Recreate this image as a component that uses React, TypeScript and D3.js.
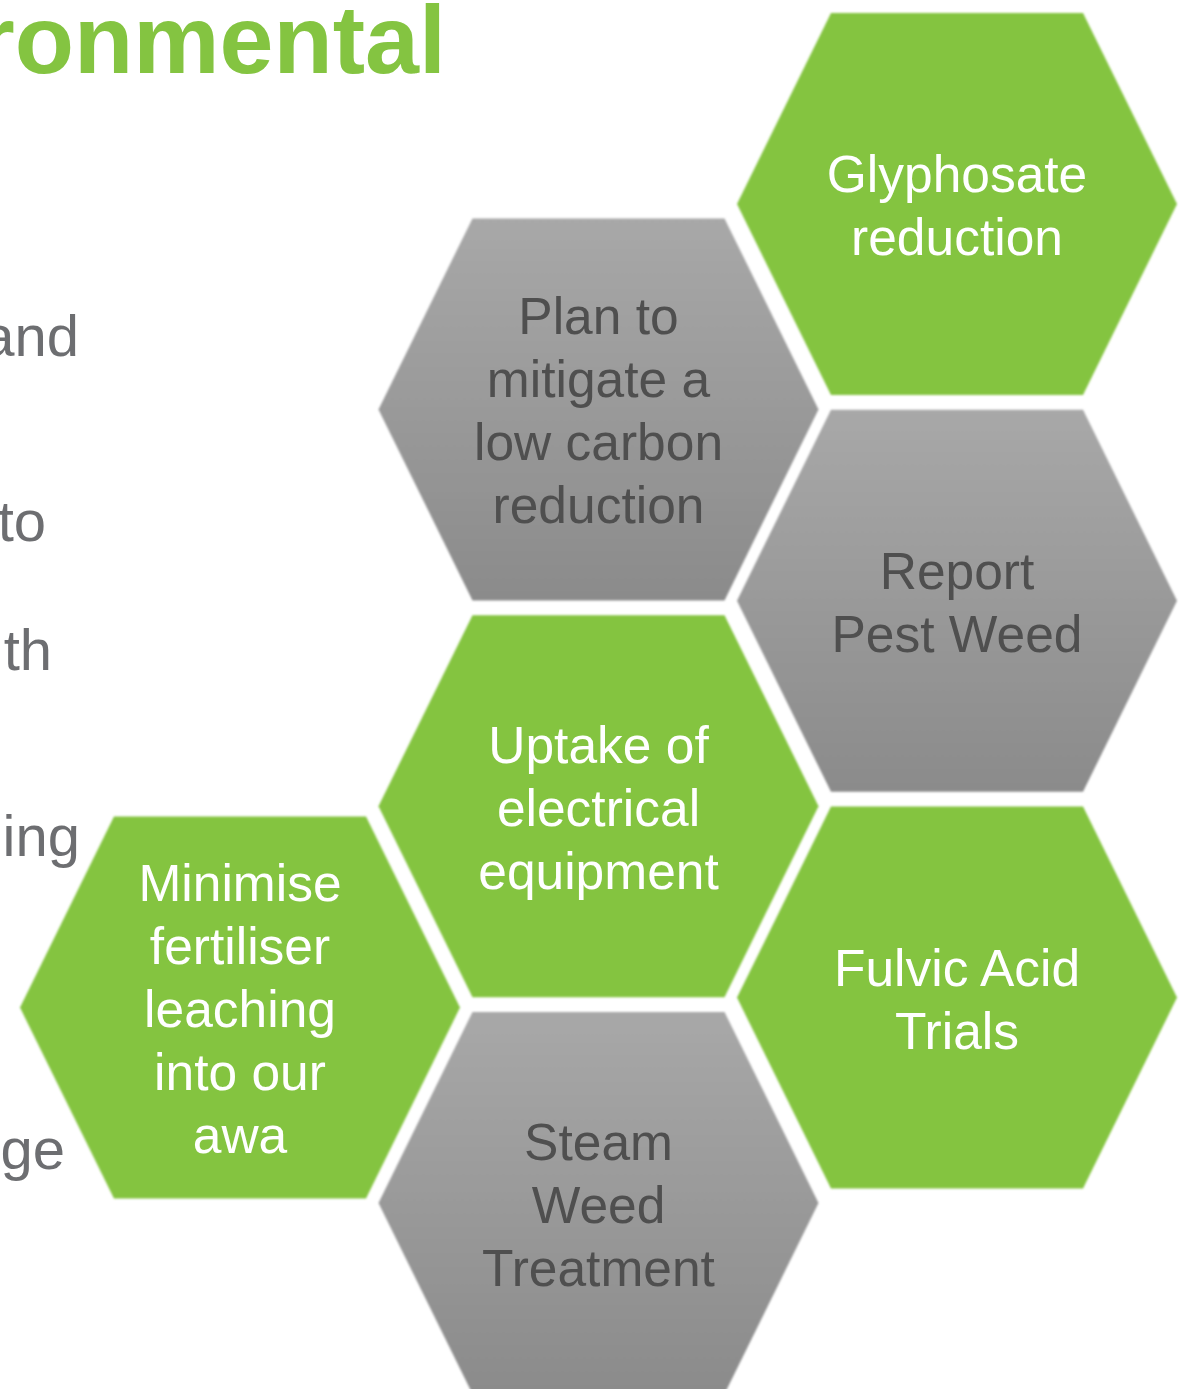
import React from "react";
import * as d3 from "d3";

const hexLabels: string[][] = [
  ["Glyphosate", "reduction"],
  ["Plan to", "mitigate a", "low carbon", "reduction"],
  ["Report", "Pest Weed"],
  ["Uptake of", "electrical", "equipment"],
  ["Fulvic Acid", "Trials"],
  ["Minimise", "fertiliser", "leaching", "into our", "awa"],
  ["Steam", "Weed", "Treatment"],
];
const hexKinds: string[] = ["green", "gray", "gray", "green", "green", "green", "gray"];
const hexCols: number[] = [2, 1, 2, 1, 2, 0, 1];
const hexRows: number[] = [0, 1, 2, 3, 4, 4, 5];

const titleText = "ronmental";
const sideTexts: string[] = ["and", "to", "th", "ing", "ge"];
const sideBaselines: number[] = [356, 541, 670, 856, 1169];
const sideEnds: number[] = [79, 46, 52, 80, 65];

const W = 1189;
const H = 1389;

export default function App() {
  const xCol = d3.scaleLinear().domain([0, 2]).range([240, 957]);
  const yRow = d3.scaleLinear().domain([0, 5]).range([204, 1196]);
  const colShift = (c: number) => (c === 1 ? 7 : c === 0 ? 10 : 0);

  const hw = 220, hh = 191, tw = 126;
  const pts: [number, number][] = [
    [-hw, 0], [-tw, -hh], [tw, -hh], [hw, 0], [tw, hh], [-tw, hh],
  ];
  const hexPath = d3.line().curve(d3.curveLinearClosed)(pts) as string;
  const lineGap = 63;
  const fontSize = 51.5;

  return (
    <svg width={W} height={H} style={{ position: "absolute", left: 0, top: 0, background: "#fff" }}
      fontFamily="'Liberation Sans', Arial, sans-serif">
      <defs>
        <linearGradient id="grayGrad" x1="0" y1="0" x2="0" y2="1">
          <stop offset="0" stopColor="#a8a8a8" />
          <stop offset="1" stopColor="#8b8b8b" />
        </linearGradient>
        <filter id="soft" x="-5%" y="-5%" width="110%" height="110%">
          <feGaussianBlur stdDeviation="0.9" />
        </filter>
      </defs>
      <rect x={0} y={0} width={W} height={H} fill="#ffffff" />
      <text x={446} y={73} textAnchor="end" fontSize={97} fontWeight="bold" fill="#84c441">{titleText}</text>
      {sideTexts.map((t, i) => (
        <text key={t} x={sideEnds[i]} y={sideBaselines[i]} textAnchor="end" fontSize={58} fill="#6d6e71">{t}</text>
      ))}
      {hexLabels.map((lines, i) => {
        const cx = xCol(hexCols[i]);
        const cy = yRow(hexRows[i]) + colShift(hexCols[i]);
        const green = hexKinds[i] === "green";
        const n = lines.length;
        return (
          <g key={i} transform={`translate(${cx},${cy})`}>
            <path d={hexPath} fill={green ? "#84c441" : "url(#grayGrad)"} filter="url(#soft)" />
            {lines.map((ln, j) => (
              <text key={j} x={0} y={(j - (n - 1) / 2) * lineGap + 19.5} textAnchor="middle"
                fontSize={fontSize} fill={green ? "#ffffff" : "#4f4f4f"}>{ln}</text>
            ))}
          </g>
        );
      })}
    </svg>
  );
}
